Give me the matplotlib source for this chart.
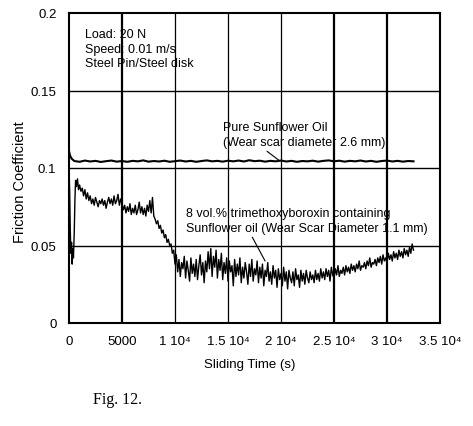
import numpy as np
import matplotlib
matplotlib.use("Agg")
import matplotlib.pyplot as plt

plt.rcParams['font.family'] = ['Liberation Sans', 'DejaVu Sans']

# Pure sunflower oil
pure_t = [0, 100, 250] + list(range(500, 33000, 500))
pure_mu = [0.111, 0.108, 0.106,
           0.1045, 0.1040, 0.1048, 0.1042, 0.1046, 0.1039, 0.1044, 0.1048, 0.1041, 0.1045,
           0.1040, 0.1046, 0.1043, 0.1049, 0.1041, 0.1045, 0.1042, 0.1047, 0.1040, 0.1044,
           0.1048, 0.1042, 0.1046, 0.1040, 0.1045, 0.1049, 0.1043, 0.1046, 0.1041, 0.1047,
           0.1043, 0.1048, 0.1042, 0.1050, 0.1044, 0.1047, 0.1041, 0.1046, 0.1043, 0.1048,
           0.1042, 0.1046, 0.1040, 0.1045, 0.1043, 0.1047, 0.1041, 0.1046, 0.1049, 0.1043,
           0.1047, 0.1041, 0.1046, 0.1043, 0.1048, 0.1042, 0.1046, 0.1040, 0.1045, 0.1048,
           0.1042, 0.1046, 0.1041, 0.1045, 0.1043]

# 8 vol.% trimethoxyboroxin in sunflower oil
add_t = [0, 60, 120, 180, 240, 300, 360, 420, 500, 560, 620, 700, 800, 900] + list(range(1000, 32625, 125))
add_mu = [0.100, 0.085, 0.060, 0.045, 0.052, 0.038, 0.048, 0.042, 0.060, 0.080, 0.092, 0.088, 0.093, 0.086,
          0.089, 0.085, 0.087, 0.082, 0.086, 0.080, 0.084, 0.079,   # 1000
          0.082, 0.077, 0.080, 0.076, 0.081, 0.078, 0.075, 0.079,   # 2000
          0.077, 0.080, 0.076, 0.079, 0.074, 0.078, 0.081, 0.077,   # 3000
          0.080, 0.076, 0.082, 0.077, 0.079, 0.083, 0.076, 0.080,   # 4000
          0.077, 0.073, 0.076, 0.071, 0.075, 0.072, 0.077, 0.070,   # 5000
          0.074, 0.071, 0.076, 0.070, 0.073, 0.078, 0.071, 0.075,   # 6000
          0.070, 0.074, 0.069, 0.076, 0.072, 0.079, 0.071, 0.081,   # 7000
          0.069, 0.067, 0.064, 0.066, 0.061, 0.063, 0.058, 0.060,   # 8000
          0.055, 0.057, 0.052, 0.054, 0.050, 0.051, 0.045, 0.047,   # 9000
          0.038, 0.044, 0.033, 0.041, 0.030, 0.039, 0.035, 0.043,   # 10000
          0.029, 0.040, 0.034, 0.027, 0.042, 0.032, 0.038, 0.030,   # 11000
          0.041, 0.028, 0.037, 0.044, 0.031, 0.039, 0.026, 0.040,   # 12000
          0.033, 0.046, 0.035, 0.048, 0.030, 0.043, 0.036, 0.047,   # 13000
          0.029, 0.041, 0.034, 0.045, 0.028, 0.039, 0.032, 0.042,   # 14000
          0.027, 0.040, 0.033, 0.037, 0.024, 0.041, 0.030, 0.038,   # 15000
          0.031, 0.042, 0.026, 0.036, 0.029, 0.039, 0.033, 0.025,   # 16000
          0.038, 0.030, 0.041, 0.027, 0.035, 0.031, 0.040, 0.026,   # 17000
          0.036, 0.029, 0.038, 0.024, 0.034, 0.030, 0.039, 0.027,   # 18000
          0.033, 0.025, 0.037, 0.029, 0.034, 0.023, 0.035, 0.028,   # 19000
          0.032, 0.024, 0.036, 0.027, 0.033, 0.022, 0.034, 0.029,   # 20000
          0.026, 0.033, 0.024, 0.035, 0.028, 0.031, 0.023, 0.034,   # 21000
          0.027, 0.032, 0.025, 0.034, 0.029, 0.026, 0.033, 0.028,   # 22000
          0.031, 0.026, 0.034, 0.028, 0.032, 0.027, 0.035, 0.029,   # 23000
          0.033, 0.028, 0.035, 0.030, 0.034, 0.027, 0.036, 0.031,   # 24000
          0.029, 0.035, 0.031, 0.037, 0.030, 0.034, 0.032, 0.036,   # 25000
          0.031, 0.037, 0.033, 0.036, 0.032, 0.038, 0.034, 0.037,   # 26000
          0.033, 0.038, 0.035, 0.040, 0.034, 0.037, 0.036, 0.039,   # 27000
          0.035, 0.040, 0.037, 0.042, 0.036, 0.039, 0.038, 0.041,   # 28000
          0.037, 0.042, 0.039, 0.043, 0.038, 0.044, 0.040, 0.042,   # 29000
          0.039, 0.045, 0.041, 0.044, 0.040, 0.046, 0.042, 0.045,   # 30000
          0.041, 0.047, 0.043, 0.046, 0.042, 0.048, 0.044, 0.047,   # 31000
          0.043, 0.049, 0.045, 0.051, 0.047]                        # 32000

xticks = [0, 5000, 10000, 15000, 20000, 25000, 30000, 35000]
xlabels = ["0", "5000", "1 10⁴", "1.5 10⁴", "2 10⁴", "2.5 10⁴", "3 10⁴", "3.5 10⁴"]
yticks = [0, 0.05, 0.1, 0.15, 0.2]
ylabels = ["0", "0.05", "0.1", "0.15", "0.2"]

W, H = 473, 427
fig = plt.figure(figsize=(W / 100, H / 100), dpi=100)
ax = fig.add_axes([69 / W, 1 - 324 / H, (440 - 69) / W, (324 - 14) / H])

# grid
for x in xticks[1:-1]:
    lw = 1.6 if x in (5000, 25000, 30000) else 0.9
    ax.axvline(x, color='black', lw=lw, zorder=1)
for y in yticks[1:-1]:
    ax.axhline(y, color='black', lw=1.0, zorder=1)

ax.plot(pure_t, pure_mu, color='black', lw=1.5, zorder=3)
ax.plot(add_t, add_mu, color='black', lw=1.0, zorder=3)

ax.set_xlim(0, 35000)
ax.set_ylim(0, 0.2)
ax.set_xticks(xticks)
ax.set_xticklabels(xlabels)
ax.set_yticks(yticks)
ax.set_yticklabels(ylabels)
ax.tick_params(length=0, labelsize=9.5, colors='black')
ax.tick_params(axis='x', pad=9)
ax.tick_params(axis='y', pad=9)
for s in ax.spines.values():
    s.set_linewidth(1.5)
    s.set_color('black')

ax.text(1500, 0.19, "Load: 20 N\nSpeed: 0.01 m/s\nSteel Pin/Steel disk",
        fontsize=9, va='top', ha='left', linespacing=1.25)

ax.annotate("Pure Sunflower Oil\n(Wear scar diameter 2.6 mm)",
            xy=(19900, 0.1045), xytext=(14500, 0.1215),
            fontsize=9, ha='left', va='center', linespacing=1.4,
            arrowprops=dict(arrowstyle='-', color='black', lw=0.8,
                            shrinkA=0, shrinkB=0, relpos=(0.25, 0.0)))

ax.annotate("8 vol.% trimethoxyboroxin containing\nSunflower oil (Wear Scar Diameter 1.1 mm)",
            xy=(18500, 0.040), xytext=(11000, 0.066),
            fontsize=9, ha='left', va='center', linespacing=1.4,
            arrowprops=dict(arrowstyle='-', color='black', lw=0.8,
                            shrinkA=0, shrinkB=0, relpos=(0.27, 0.0)))

fig.text(20 / W, 1 - 182 / H, "Friction Coefficient", rotation=90,
         fontsize=10.5, ha='center', va='center')
fig.text(250 / W, 1 - 365 / H, "Sliding Time (s)", fontsize=9.5, ha='center', va='center')
fig.text(93 / W, 1 - 400 / H, "Fig. 12.", fontsize=11.5, family='Liberation Serif',
         ha='left', va='center')

fig.savefig("out.png", dpi=100)
